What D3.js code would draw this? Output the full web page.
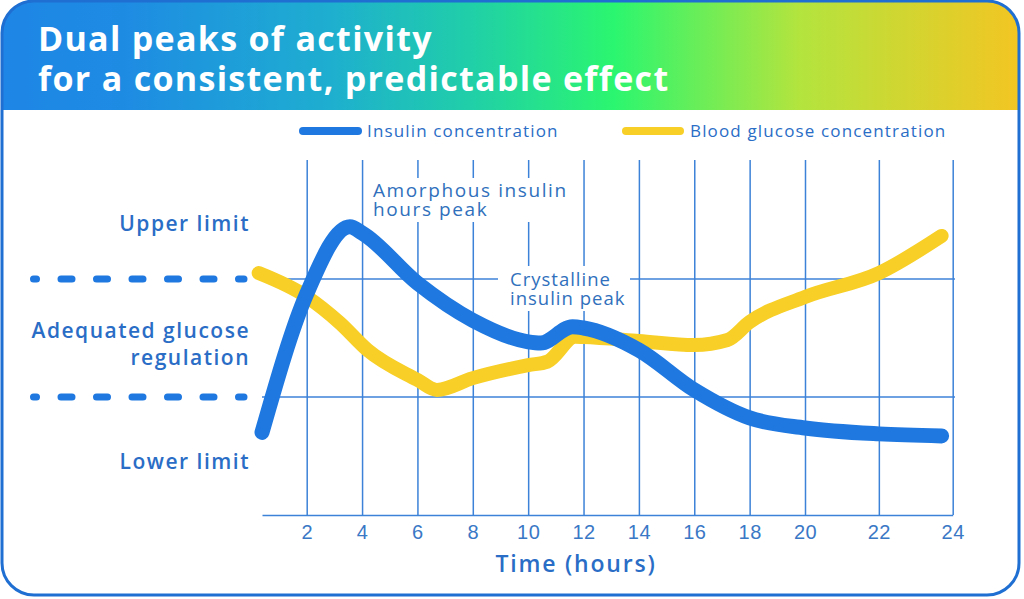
<!DOCTYPE html>
<html><head><meta charset="utf-8">
<script src="https://cdn.jsdelivr.net/npm/d3@7"></script>
<style>
html,body{margin:0;padding:0;background:#fff;}
svg{display:block;font-family:"Open Sans",sans-serif;}
</style></head>
<body><svg id="c" width="1024" height="599"></svg>
<script>
// ---- data ----
const hourTicks = [2,4,6,8,10,12,14,16,18,20,22,24];
const insulinHours  = [0, 2, 3.56, 4, 6, 8, 10, 10.45, 11.6, 12, 14, 16, 18, 20, 22, 23.7];
const insulinValues = [28, 75, 97.7, 95.6, 78.6, 66, 58.7, 58.3, 63.8, 63.4, 55.9, 42.4, 32.9, 29.5, 27.5, 26.8];
const glucoseHours  = [-0.15, 2, 3.2, 4.2, 6, 6.7, 8, 10, 10.7, 11.7, 12, 14, 16, 17.2, 18, 20, 22, 23.7];
const glucoseValues = [82, 74, 65.1, 55.9, 45.8, 42.4, 46.4, 50.8, 52, 60.4, 60.3, 59, 57.6, 59.3, 65.4, 73.9, 82, 94.6];
const limitValues = [80, 40];
const limitLabels = [["Upper limit", 96.3], ["Adequated glucose", 60], ["regulation", 50.8], ["Lower limit", 15.6]];
const seriesNames = ["Insulin concentration", "Blood glucose concentration"];
const titleLines = ["Dual peaks of activity", "for a consistent, predictable effect"];

const blue = "#1f78e0", yellow = "#f7cf26", textBlue = "#2a6dc6", gridBlue = "#3c82d8";
const svg = d3.select("#c");

// ---- card & header ----
const defs = svg.append("defs");
const grad = defs.append("linearGradient").attr("id","hg").attr("x1","0").attr("x2","1").attr("y1","0").attr("y2","0");
[[0,"#1e86e6"],[0.12,"#1e8be3"],[0.32,"#1eaed0"],[0.46,"#20cfa8"],[0.6,"#2bf66f"],[0.78,"#b3e43e"],[1,"#f4c522"]]
  .forEach(([o,c])=>grad.append("stop").attr("offset",o).attr("stop-color",c));
defs.append("clipPath").attr("id","card").append("rect")
  .attr("x",2).attr("y",1).attr("width",1017).attr("height",594).attr("rx",32);

svg.append("rect").attr("x",2).attr("y",1).attr("width",1017).attr("height",594).attr("rx",32)
  .attr("fill","#fff");
svg.append("rect").attr("clip-path","url(#card)").attr("x",0).attr("y",0).attr("width",1024).attr("height",110)
  .attr("fill","url(#hg)");
svg.append("rect").attr("x",2).attr("y",1).attr("width",1017).attr("height",594).attr("rx",32)
  .attr("fill","none").attr("stroke","#1f6fd2").attr("stroke-width",3);

svg.selectAll(".title").data(titleLines).join("text")
  .attr("x",38).attr("y",(d,i)=>51+i*40)
  .attr("fill","#fff").attr("font-size",34).attr("font-weight",700).attr("letter-spacing",1.3)
  .text(d=>d);

// ---- scales ----
const x = d3.scaleLinear().domain([0,2,20,24]).range([262,306.7,805,952.7]);
const y = d3.scaleLinear().domain([0,120]).range([515,161]);

// ---- grid & axis ----
const axis = d3.axisBottom(x).tickValues(hourTicks).tickSizeInner(-(515-160)).tickSizeOuter(0).tickPadding(10);
const gx = svg.append("g").attr("transform","translate(0,515)").call(axis);
gx.select(".domain").attr("stroke",gridBlue).attr("stroke-width",1.6);
gx.selectAll(".tick line").attr("stroke",gridBlue).attr("stroke-width",1.5);
gx.selectAll(".tick text").attr("fill","#3a78c6").attr("font-size",20).attr("letter-spacing",0.5).attr("dy","0.72em");

svg.selectAll(".hgrid").data(limitValues).join("line")
  .attr("x1",262).attr("x2",955).attr("y1",d=>y(d)).attr("y2",d=>y(d))
  .attr("stroke",gridBlue).attr("stroke-width",1.6);
svg.selectAll(".dash").data(limitValues).join("line")
  .attr("x1",33.5).attr("x2",244).attr("y1",d=>y(d)).attr("y2",d=>y(d))
  .attr("stroke",blue).attr("stroke-width",7).attr("stroke-linecap","round")
  .attr("stroke-dasharray","11 24.5").attr("stroke-dashoffset",8);

// ---- annotation boxes (white backgrounds) ----
svg.append("rect").attr("x",366).attr("y",178).attr("width",210).attr("height",44).attr("fill","#fff");
svg.append("rect").attr("x",498).attr("y",266).attr("width",132).attr("height",45).attr("fill","#fff");
const ann = [["Amorphous insulin",373,197,19,1.6],["hours peak",373,216,19,1.6],["Crystalline",510,286,18.5,1.0],["insulin peak",510,305,18.5,1.0]];
svg.selectAll(".ann").data(ann).join("text")
  .attr("x",d=>d[1]).attr("y",d=>d[2]).attr("fill","#3070bc").attr("font-size",d=>d[3])
  .attr("letter-spacing",d=>d[4]).text(d=>d[0]);

// ---- y labels ----
svg.selectAll(".ylab").data(limitLabels).join("text")
  .attr("x",250).attr("y",d=>y(d[1])).attr("text-anchor","end")
  .attr("fill",textBlue).attr("font-size",21).attr("font-weight",600).attr("letter-spacing",1.5).text(d=>d[0]);

// ---- curves ----
const line = d3.line().x(d=>x(d[0])).y(d=>y(d[1])).curve(d3.curveMonotoneX);
svg.append("path").datum(glucoseHours.map((h,i)=>[h,glucoseValues[i]]))
  .attr("d",line).attr("fill","none").attr("stroke",yellow).attr("stroke-width",14)
  .attr("stroke-linecap","round").attr("stroke-linejoin","round");
svg.append("path").datum(insulinHours.map((h,i)=>[h,insulinValues[i]]))
  .attr("d",line).attr("fill","none").attr("stroke",blue).attr("stroke-width",15)
  .attr("stroke-linecap","round").attr("stroke-linejoin","round");

// ---- legend ----
const leg = [[303,358,367,blue],[626,680,690,yellow]];
svg.selectAll(".legl").data(leg).join("line")
  .attr("x1",d=>d[0]).attr("x2",d=>d[1]).attr("y1",131).attr("y2",131)
  .attr("stroke",d=>d[3]).attr("stroke-width",8).attr("stroke-linecap","round");
svg.selectAll(".legt").data(leg).join("text")
  .attr("x",d=>d[2]).attr("y",137).attr("fill",textBlue).attr("font-size",17).attr("letter-spacing",1.15)
  .text((d,i)=>seriesNames[i]);

// ---- x title ----
svg.append("text").attr("x",576).attr("y",572).attr("text-anchor","middle")
  .attr("fill",textBlue).attr("font-size",23).attr("font-weight",600).attr("letter-spacing",1.8).text("Time (hours)");
</script></body></html>
